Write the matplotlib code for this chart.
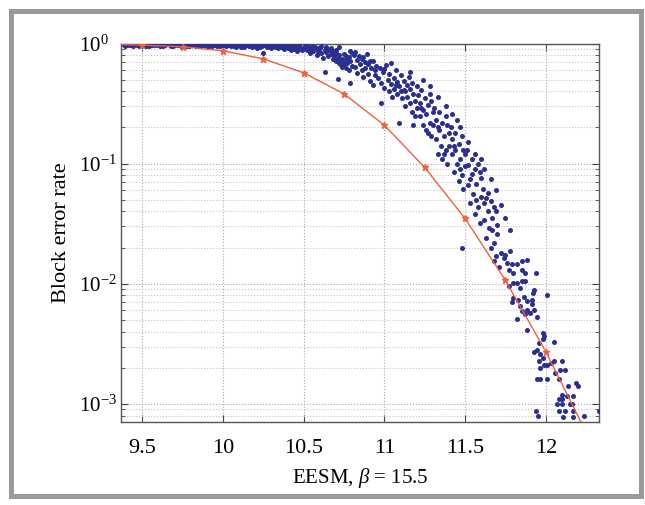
import matplotlib
matplotlib.use("Agg")
import matplotlib.pyplot as plt
from matplotlib.patches import Rectangle
from matplotlib.ticker import LogLocator, LogFormatterMathtext, NullFormatter, FixedLocator

plt.rcParams['font.family'] = ['Liberation Serif', 'DejaVu Serif']
plt.rcParams['mathtext.fontset'] = 'custom'
plt.rcParams['mathtext.rm'] = 'Liberation Serif'
plt.rcParams['mathtext.it'] = 'Liberation Serif:italic'

# measured block error rate per channel realisation (blue dots), split by region
# flat part near BLER = 1
top_x = [
    9.38, 9.40, 9.41, 9.43, 9.44, 9.46, 9.47, 9.49, 9.50, 9.52, 9.53, 9.55, 9.57, 9.58, 9.60,
    9.62, 9.63, 9.65, 9.67, 9.68, 9.70, 9.72, 9.73, 9.75, 9.77, 9.78, 9.80, 9.82, 9.83, 9.85,
    9.87, 9.88, 9.90, 9.92, 9.93, 9.95, 9.97, 9.98, 10.00,
    9.39, 9.42, 9.45, 9.48, 9.51, 9.54, 9.56, 9.59, 9.61, 9.64, 9.66, 9.69, 9.71, 9.74, 9.76,
    9.79, 9.81, 9.84, 9.86, 9.89, 9.91, 9.94, 9.96, 9.99,
    10.01, 10.02, 10.04, 10.05, 10.06, 10.08, 10.09, 10.10, 10.12, 10.13, 10.14, 10.16, 10.17,
    10.18, 10.20, 10.21, 10.22, 10.24, 10.25, 10.26, 10.27, 10.28, 10.29, 10.30,
    10.03, 10.07, 10.11, 10.15, 10.19, 10.23, 10.26, 10.31, 10.34, 10.38, 10.41, 10.44, 10.47,
    10.31, 10.32, 10.33, 10.34, 10.35, 10.36, 10.37, 10.38, 10.39, 10.40, 10.41, 10.42, 10.43,
    10.44, 10.45, 10.46, 10.47, 10.48, 10.49, 10.50,
]
top_y = [
    .985, .97, .99, .975, .96, .985, .97, .99, .975, .96, .985, .97, .99, .965, .98,
    .97, .955, .985, .97, .96, .98, .965, .99, .97, .955, .98, .965, .975, .95, .985,
    .965, .975, .955, .98, .96, .97, .985, .95, .965,
    .955, .98, .99, .955, .98, .95, .975, .99, .95, .975, .99, .95, .985, .955, .99,
    .95, .985, .97, .945, .99, .94, .985, .945, .98,
    .98, .945, .97, .955, .985, .94, .965, .975, .95, .93, .97, .955, .985,
    .94, .96, .925, .975, .95, .83, .965, .935, .98, .95, .915,
    .99, .96, .935, .99, .97, .94, .99, .955, .985, .97, .99, .95, .975,
    .97, .94, .955, .91, .975, .93, .95, .895, .96, .92, .94, .88, .965,
    .905, .935, .87, .95, .91, .89, .93,
]

# bend of the cloud, 10.5 .. 11.8
mid_x = [
    10.51, 10.52, 10.53, 10.54, 10.55, 10.56, 10.57, 10.58, 10.59, 10.60, 10.61, 10.62, 10.63,
    10.63, 10.64, 10.65,
    10.52, 10.55, 10.58, 10.61, 10.64, 10.67, 10.70, 10.72, 10.74, 10.76, 10.77, 10.79,
    10.66, 10.67, 10.68, 10.68, 10.69, 10.70, 10.70, 10.71, 10.71, 10.72, 10.72, 10.73, 10.73,
    10.74, 10.74, 10.75, 10.75, 10.76, 10.76, 10.77, 10.78, 10.78, 10.79, 10.79, 10.80, 10.80,
    10.81, 10.82, 10.83, 10.83, 10.84, 10.85, 10.86, 10.86, 10.87, 10.88, 10.88, 10.89, 10.90,
    10.90, 10.91, 10.92, 10.93, 10.93, 10.94, 10.95, 10.82, 10.87, 10.91, 10.94,
    10.96, 10.97, 10.98, 10.98, 10.99, 11.00, 11.01, 11.02, 11.03, 11.03, 11.04, 11.05, 11.06,
    11.06, 11.07, 11.08, 11.08, 11.09, 11.09, 11.10, 11.10, 11.00, 11.04, 11.07,
    11.11, 11.12, 11.12, 11.13, 11.14, 11.14, 11.15, 11.16, 11.16, 11.17, 11.18, 11.18, 11.19,
    11.20, 11.20, 11.13, 11.17, 11.19, 11.16,
    11.21, 11.22, 11.22, 11.23, 11.24, 11.24, 11.25, 11.26, 11.26, 11.27, 11.28, 11.28, 11.29,
    11.30, 11.30, 11.23, 11.27, 11.29, 11.24, 11.28,
    11.31, 11.32, 11.32, 11.33, 11.34, 11.34, 11.35, 11.36, 11.36, 11.37, 11.38, 11.38, 11.39,
    11.40, 11.40, 11.33, 11.37, 11.39, 11.33, 11.38,
    11.41, 11.42, 11.42, 11.43, 11.44, 11.44, 11.45, 11.46, 11.46, 11.47, 11.48, 11.48, 11.49,
    11.50, 11.50, 11.43, 11.47, 11.48, 11.49, 11.42, 11.45, 11.47,
    11.51, 11.52, 11.52, 11.53, 11.54, 11.54, 11.55, 11.56, 11.56, 11.57, 11.58, 11.58, 11.59,
    11.60, 11.60, 11.53, 11.57, 11.59, 11.52, 11.56, 11.60,
    11.61, 11.62, 11.62, 11.63, 11.64, 11.64, 11.65, 11.66, 11.66, 11.67, 11.68, 11.68, 11.69,
    11.70, 11.70, 11.63, 11.67, 11.69, 11.62, 11.66, 11.69, 11.72, 11.75, 11.78,
]
mid_y = [
    .95, .88, .92, .84, .90, .86, .93, .80, .87, .91, .83, .76, .58,
    .89, .85, .79,
    .97, .95, .92, .96, .93, .91, .88, .93, .64, .79, .74, .87,
    .88, .82, .74, .86, .78, .71, .84, .51, .76, .69, .80, .72, .66,
    .70, .75, .68, .82, .63, .73, .69, .77, .60, .47, .71, .65, .84,
    .80, .64, .73, .57, .78, .67, .60, .74, .53, .70, .63, .81, .56,
    .68, .49, .62, .45, .72, .55, .65, .85, .77, .71, .60,
    .52, .63, .32, .47, .58, .43, .66, .50, .40, .56, .46, .36, .52,
    .42, .60, .38, .48, .22, .44, .40, .55, .61, .69, .45,
    .35, .49, .41, .30, .45, .36, .53, .32, .42, .27, .38, .21, .33,
    .44, .29, .40, .47, .25, .58,
    .37, .25, .32, .41, .21, .28, .35, .19, .26, .31, .22, .38, .17,
    .27, .21, .29, .18, .33, .50, .44,
    .29, .16, .23, .12, .19, .27, .14, .22, .11, .17, .25, .13, .10,
    .18, .14, .20, .12, .21, .36, .30,
    .20, .12, .16, .085, .13, .18, .10, .145, .072, .11, .17, .08, .062,
    .12, .095, .14, .09, .02, .13, .26, .23, .20,
    .13, .066, .098, .047, .082, .11, .056, .09, .038, .068, .10, .044, .032,
    .076, .053, .075, .05, .085, .15, .12, .11,
    .062, .034, .047, .024, .040, .057, .029, .049, .02, .035, .044, .022, .017,
    .031, .026, .052, .028, .04, .09, .075, .06, .045, .035, .028,
]

# steep tail, quantised low BLER values
tail_x = [
    11.678, 11.71, 11.75, 11.777, 11.76, 11.79, 11.82, 11.85, 11.885, 11.77, 11.80, 11.85,
    11.87, 11.94, 11.80, 11.82, 11.85, 11.87, 11.77, 11.84, 11.93, 11.92, 12.01, 11.80, 11.83,
    11.865, 11.885, 11.916, 11.916, 11.79, 11.84, 11.85, 11.885, 11.905, 11.925, 11.87, 11.82,
    11.945, 11.885, 11.98, 11.99, 12.05, 11.98, 11.96, 11.945, 11.925, 11.965, 11.98, 11.96,
    11.99, 11.965, 12.01, 12.03, 12.05, 12.10, 12.12, 12.09, 11.945, 11.965, 12.01, 12.08,
    12.06, 12.135, 12.19, 12.20, 12.10, 12.13, 12.08, 12.10, 12.17, 12.07, 12.10, 12.15, 12.16,
    11.94, 12.08, 12.12, 12.17, 12.24, 12.11, 12.17, 12.33, 11.955, 11.72, 11.74,
]
tail_y = [
    .0154, .0139, .0175, .0186, .0148, .0145, .0145, .0154, .0158, .0130, .0122, .0130,
    .0124, .0122, .0102, .0102, .0105, .0105, .0095, .0092, .0089, .0084, .0080, .0076, .0074,
    .0078, .0072, .0074, .0068, .0071, .0065, .0059, .0061, .0057, .0061, .0056, .0051,
    .0053, .0041, .0039, .0037, .0033, .0035, .0032, .0028, .0027, .0026, .0024, .0023,
    .0021, .0020, .0021, .0022, .0023, .0023, .0019, .0019, .0016, .0016, .0016, .0016,
    .0018, .0014, .0015, .0014, .00118, .00117, .0011, .0011, .00117, .0010, .0010, .0010, .0010,
    .00088, .00088, .00088, .00088, .00079, .00078, .00078, .00088, .00080, .0180, .0165,
]

# AWGN reference curve (red)
awgn_x = [9.25, 9.5, 9.75, 10.0, 10.25, 10.5, 10.75, 11.0, 11.25, 11.5, 11.75, 12.0, 12.25]
awgn_y = [0.99, 0.968, 0.94, 0.869, 0.745, 0.57, 0.381, 0.209, 0.093, 0.035, 0.0107, 0.00273,
          0.00058]

x_ticks = [9.5, 10, 10.5, 11, 11.5, 12]
x_tick_labels = ['9.5', '10', '10.5', '11', '11.5', '12']

fig = plt.figure(figsize=(6.45, 5.05), dpi=100)
ax = fig.add_axes([121 / 645, 1 - 422 / 505, 478 / 645, 378.5 / 505])

ax.scatter(top_x + mid_x + tail_x, top_y + mid_y + tail_y, s=13, color='#2b2f8e',
           linewidths=0, zorder=3)
ax.plot(awgn_x, awgn_y, '-*', color='#f0623e', lw=1.0, ms=5, zorder=4)

ax.set_yscale('log')
ax.set_xlim(9.368, 12.33)
ax.set_ylim(10 ** -3.15, 1.0)

ax.xaxis.set_major_locator(FixedLocator(x_ticks))
ax.set_xticklabels(x_tick_labels)
ax.yaxis.set_major_locator(LogLocator(base=10, numticks=10))
ax.yaxis.set_major_formatter(LogFormatterMathtext())
ax.yaxis.set_minor_locator(LogLocator(base=10, subs=range(2, 10), numticks=10))
ax.yaxis.set_minor_formatter(NullFormatter())

ax.grid(True, which='major', ls=':', color='#a8a8a8', lw=0.8)
ax.yaxis.grid(True, which='minor', ls=':', color='#c4c4c4', lw=0.8)
ax.set_axisbelow(True)

ax.tick_params(which='both', direction='in', top=True, right=True, colors='#444444',
               labelcolor='black')
ax.tick_params(which='major', length=5, width=0.8)
ax.tick_params(which='minor', length=3, width=0.6)
ax.tick_params(axis='x', pad=12, labelsize=16)
ax.tick_params(axis='y', pad=30, labelsize=15)
for s in ax.spines.values():
    s.set_color('#555555')
    s.set_linewidth(1.0)

ax.set_xlabel(r'EESM, $\beta$ = 15.5', fontsize=15)
ax.set_ylabel('Block error rate', fontsize=16)
ax.xaxis.label.set_va('center')
ax.yaxis.label.set_va('center')
ax.xaxis.set_label_coords(0.5, -56 / 378.5)
ax.yaxis.set_label_coords(-60 / 478, 0.5)

# grey frame round the whole figure
fig.patches.append(Rectangle((11 / 645, 9 / 505), 630 / 645, 485 / 505,
                             transform=fig.transFigure, fill=False,
                             edgecolor='#9a9a9a', lw=3.6))

# MATLAB-like: the "10" of every y label starts at the same x
fig.canvas.draw()
for lbl in ax.get_yticklabels():
    lbl.set_horizontalalignment('left')

fig.savefig('out.png', dpi=100)
